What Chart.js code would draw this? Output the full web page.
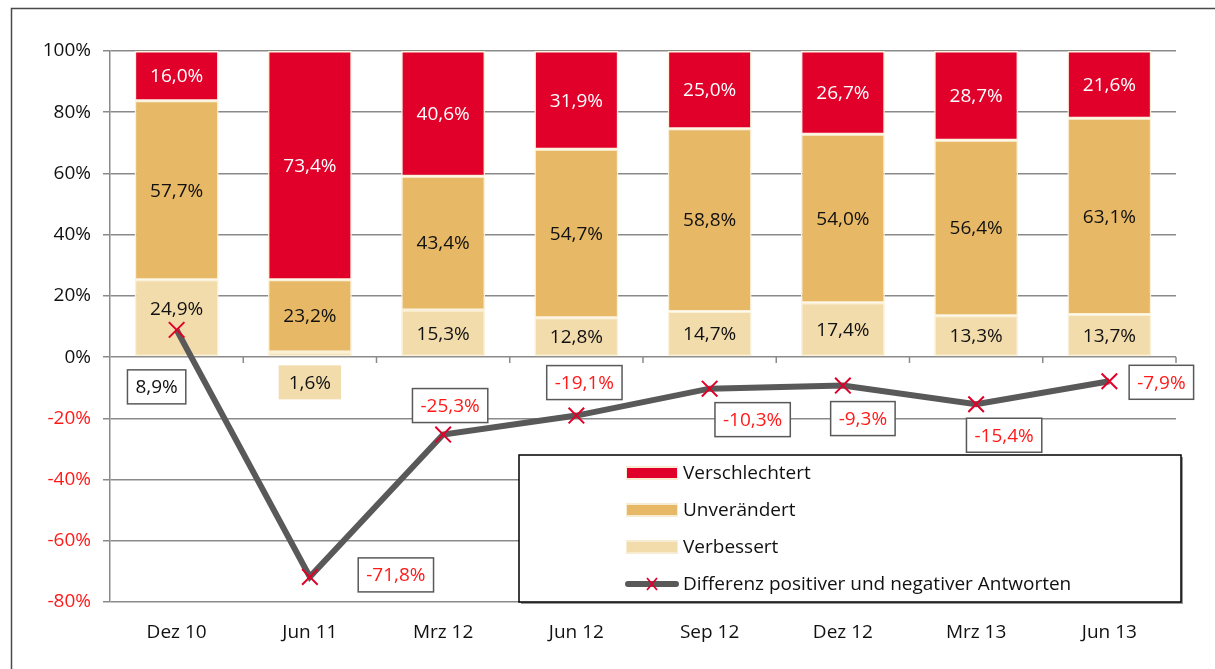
<!DOCTYPE html>
<html>
<head>
<meta charset="utf-8">
<script src="https://cdn.jsdelivr.net/npm/chart.js@4/dist/chart.umd.min.js"></script>
<style>
html,body{margin:0;padding:0;background:#fff;}
canvas{display:block;}
</style>
</head>
<body>
<canvas id="c" width="1215" height="669"></canvas>
<script>
const categories = ['Dez 10','Jun 11','Mrz 12','Jun 12','Sep 12','Dez 12','Mrz 13','Jun 13'];
const verbessert = [24.9, 1.6, 15.3, 12.8, 14.7, 17.4, 13.3, 13.7];
const unveraendert = [57.7, 23.2, 43.4, 54.7, 58.8, 54.0, 56.4, 63.1];
const verschlechtert = [16.0, 73.4, 40.6, 31.9, 25.0, 26.7, 28.7, 21.6];
const differenz = [8.9, -71.8, -25.3, -19.1, -10.3, -9.3, -15.4, -7.9];
const seriesNames = ['Verschlechtert','Unverändert','Verbessert','Differenz positiver und negativer Antworten'];

const FONT = '"Open Sans", "DejaVu Sans", sans-serif';
const FS = 19;
const RED = '#e0002a';
const ORANGE = '#e7b865';
const TAN = '#f3dcac';
const LINEC = '#595959';
const TXTRED = '#ff1a1a';

const totals = categories.map((_, i) => verbessert[i] + unveraendert[i] + verschlechtert[i]);
const pct = arr => arr.map((v, i) => v / totals[i] * 100);
const fmt = v => v.toFixed(1).replace('.', ',') + '%';

// label placement styles for the line values (dx, dy from the point)
const lineLabelOffsets = [[-20,57],[86,-2],[7,-29],[8,-33],[43,31],[20,33],[28,31],[52,1]];

const framePlugin = {
  id: 'frame',
  beforeDraw(chart) {
    const c = chart.ctx;
    c.save();
    c.fillStyle = '#fff';
    c.fillRect(0, 0, chart.width, chart.height);
    c.strokeStyle = '#4a4a4a';
    c.lineWidth = 1.5;
    c.beginPath();
    c.moveTo(11.5, 669);
    c.lineTo(11.5, 8.5);
    c.lineTo(1215, 8.5);
    c.stroke();
    c.restore();
  }
};

const zeroTicksPlugin = {
  id: 'zeroTicks',
  afterDraw(chart) {
    const c = chart.ctx, xs = chart.scales.x, ys = chart.scales.y;
    const y0 = ys.getPixelForValue(0);
    const half = (xs.getPixelForValue(1) - xs.getPixelForValue(0)) / 2;
    c.save();
    c.strokeStyle = '#8a8a8a';
    c.lineWidth = 1.5;
    c.beginPath();
    for (let i = 0; i < categories.length; i++) {
      const xb = xs.getPixelForValue(i) + half;
      c.moveTo(xb, y0);
      c.lineTo(xb, y0 + 6);
    }
    c.stroke();
    c.restore();
  }
};

const barLabelsPlugin = {
  id: 'barLabels',
  afterDatasetsDraw(chart) {
    const c = chart.ctx;
    const raw = [verbessert, unveraendert, verschlechtert];
    const colors = ['#111111', '#111111', '#ffffff'];
    const lineMeta = chart.getDatasetMeta(3);
    c.save();
    c.font = FS + 'px ' + FONT;
    c.textAlign = 'center';
    c.textBaseline = 'middle';
    for (let d = 0; d < 3; d++) {
      const meta = chart.getDatasetMeta(d);
      meta.data.forEach((el, i) => {
        const h = Math.abs(el.base - el.y);
        const txt = fmt(raw[d][i]);
        if (h < 20) {
          const w = c.measureText(txt).width + 20;
          const cy = el.base + 26;
          c.fillStyle = TAN;
          c.fillRect(el.x - w / 2, cy - 17, w, 34);
          c.fillStyle = colors[d];
          c.fillText(txt, el.x, cy + 1);
        } else {
          let cy = (el.y + el.base) / 2 + 1;
          const p = lineMeta.data[i];
          if (p && Math.abs(p.y - cy) < 16) cy = p.y - 20;
          c.fillStyle = colors[d];
          c.fillText(txt, el.x, cy);
        }
      });
    }
    c.restore();
  }
};

const lineLabelsPlugin = {
  id: 'lineLabels',
  afterDatasetsDraw(chart) {
    const c = chart.ctx;
    const meta = chart.getDatasetMeta(3);
    c.save();
    c.font = FS + 'px ' + FONT;
    c.textAlign = 'center';
    c.textBaseline = 'middle';
    meta.data.forEach((pt, i) => {
      const v = differenz[i];
      const txt = fmt(v);
      const off = lineLabelOffsets[i];
      const cx = pt.x + off[0], cy = pt.y + off[1];
      const w = c.measureText(txt).width + 16;
      const h = 34;
      c.fillStyle = '#fff';
      c.fillRect(cx - w / 2, cy - h / 2, w, h);
      c.strokeStyle = '#595959';
      c.lineWidth = 1.5;
      c.strokeRect(cx - w / 2, cy - h / 2, w, h);
      c.fillStyle = v < 0 ? TXTRED : '#111';
      c.fillText(txt, cx, cy + 1);
    });
    c.restore();
  }
};

const legendPlugin = {
  id: 'boxLegend',
  afterDraw(chart) {
    const c = chart.ctx;
    const x0 = 519, y0 = 455, x1 = 1181, y1 = 602;
    c.save();
    c.fillStyle = '#9a9a9a';
    c.fillRect(x0 + 2, y0 + 2, x1 - x0, y1 - y0);
    c.fillStyle = '#fff';
    c.fillRect(x0, y0, x1 - x0, y1 - y0);
    c.strokeStyle = '#000';
    c.lineWidth = 1.5;
    c.strokeRect(x0, y0, x1 - x0, y1 - y0);
    const rows = [473, 510, 547, 584];
    const sw = [RED, ORANGE, TAN];
    c.font = FS + 'px ' + FONT;
    c.textBaseline = 'middle';
    c.textAlign = 'left';
    for (let k = 0; k < 4; k++) {
      const y = rows[k];
      if (k < 3) {
        c.fillStyle = '#f7ecd2';
        c.fillRect(626, y - 7, 52, 14);
        c.fillStyle = sw[k];
        c.fillRect(627, y - 5, 50, 10);
      } else {
        c.strokeStyle = LINEC;
        c.lineWidth = 6;
        c.lineCap = 'round';
        c.beginPath();
        c.moveTo(628, y);
        c.lineTo(676, y);
        c.stroke();
        c.strokeStyle = RED;
        c.lineWidth = 1.8;
        c.lineCap = 'butt';
        c.beginPath();
        c.moveTo(647, y - 6); c.lineTo(657, y + 6);
        c.moveTo(657, y - 6); c.lineTo(647, y + 6);
        c.stroke();
      }
      c.fillStyle = '#111';
      c.fillText(seriesNames[k], 683, y + 1);
    }
    c.restore();
  }
};

const barCommon = {
  type: 'bar',
  stack: 'bars',
  borderColor: '#fbf1d8',
  borderWidth: 1.5,
  borderSkipped: false,
  barPercentage: 0.63,
  categoryPercentage: 1.0,
  order: 1
};

new Chart(document.getElementById('c'), {
  data: {
    labels: categories,
    datasets: [
      Object.assign({}, barCommon, { label: seriesNames[2], data: pct(verbessert), backgroundColor: TAN }),
      Object.assign({}, barCommon, { label: seriesNames[1], data: pct(unveraendert), backgroundColor: ORANGE }),
      Object.assign({}, barCommon, { label: seriesNames[0], data: pct(verschlechtert), backgroundColor: RED }),
      {
        type: 'line',
        label: seriesNames[3],
        stack: 'line',
        data: differenz,
        borderColor: LINEC,
        borderWidth: 6,
        pointStyle: 'crossRot',
        pointRadius: 11,
        pointBorderColor: RED,
        pointBorderWidth: 2,
        pointBackgroundColor: RED,
        tension: 0,
        order: 0
      }
    ]
  },
  options: {
    responsive: false,
    animation: false,
    devicePixelRatio: 1,
    layout: { padding: { top: 51, right: 39, bottom: 17, left: 0 } },
    plugins: {
      legend: { display: false },
      tooltip: { enabled: false },
      title: { display: false }
    },
    scales: {
      x: {
        stacked: true,
        offset: true,
        grid: { display: false, drawTicks: false },
        border: { display: false },
        ticks: { color: '#111', font: { family: FONT, size: FS }, padding: 19 },
        afterFit(s) { s.height = 50; }
      },
      y: {
        stacked: true,
        min: -80,
        max: 100,
        ticks: {
          stepSize: 20,
          padding: 12,
          font: { family: FONT, size: FS },
          color: ctx => (ctx.tick && ctx.tick.value < 0) ? TXTRED : '#111',
          callback: v => v + '%'
        },
        grid: { color: '#8a8a8a', lineWidth: 1.5, tickLength: 7, drawTicks: true },
        border: { display: true, color: '#8a8a8a', width: 1.5 },
        afterFit(s) { s.width = 110; }
      }
    }
  },
  plugins: [framePlugin, zeroTicksPlugin, barLabelsPlugin, lineLabelsPlugin, legendPlugin]
});
</script>
</body>
</html>
